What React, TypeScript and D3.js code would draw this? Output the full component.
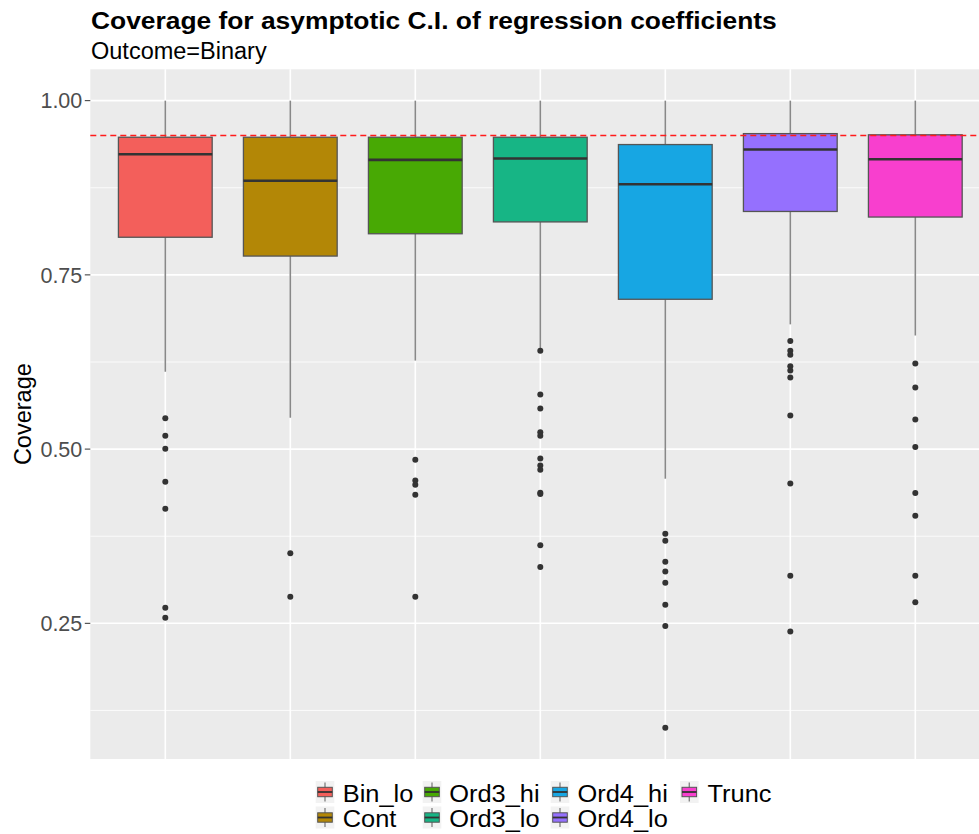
import React from "react";
import * as d3 from "d3";

const categories = ["Bin_lo", "Cont", "Ord3_hi", "Ord3_lo", "Ord4_hi", "Ord4_lo", "Trunc"];
const colors = ["#F35F5B", "#B38706", "#48A904", "#17B585", "#17A6E3", "#9570FE", "#F83FCE"];
const whiskerHigh = [1.0, 1.0, 1.0, 1.0, 1.0, 1.0, 1.0];
const q3 = [0.9475, 0.9475, 0.9475, 0.9475, 0.937, 0.9527, 0.951];
const medians = [0.923, 0.885, 0.915, 0.917, 0.880, 0.930, 0.916];
const q1 = [0.804, 0.777, 0.809, 0.826, 0.715, 0.841, 0.833];
const whiskerLow = [0.611, 0.545, 0.627, 0.645, 0.4575, 0.679, 0.663];
const outliers = [
  [0.5444, 0.519, 0.5006, 0.453, 0.4145, 0.2725, 0.258],
  [0.3504, 0.2882],
  [0.4847, 0.455, 0.449, 0.4345, 0.2882],
  [0.641, 0.5784, 0.5583, 0.5243, 0.519, 0.4866, 0.4766, 0.4704, 0.4375, 0.4355, 0.3622, 0.3308],
  [0.3785, 0.3685, 0.3384, 0.3245, 0.3083, 0.2767, 0.2461, 0.1003],
  [0.655, 0.641, 0.6353, 0.619, 0.6128, 0.6028, 0.5483, 0.4507, 0.3184, 0.2383],
  [0.6228, 0.5884, 0.5425, 0.503, 0.437, 0.4045, 0.3184, 0.2801],
];
const refLine = 0.95;
const majorTicks = [0.25, 0.5, 0.75, 1.0];
const minorTicks = [0.125, 0.375, 0.625, 0.875];
const tickLabels = ["0.25", "0.50", "0.75", "1.00"];
const titleText = "Coverage for asymptotic C.I. of regression coefficients";
const subtitleText = "Outcome=Binary";
const yTitle = "Coverage";

const W = 979;
const H = 834;
const panel = { left: 90.3, right: 990.3, top: 69.3, bottom: 759 };
const font = "Liberation Sans, Arial, Helvetica, sans-serif";

export default function App() {
  const x = d3.scalePoint<string>().domain(categories).range([panel.left, panel.right]).padding(0.6);
  const step = x.step();
  const boxW = step * 0.75;
  const y = d3.scaleLinear().domain([0.0553, 1.045]).range([panel.bottom, panel.top]);

  const legendCols = [
    { kx: 315.7, tx: 342.7 },
    { kx: 422.7, tx: 449.3 },
    { kx: 550.7, tx: 577.5 },
    { kx: 680, tx: 707.5 },
  ];
  const rowY = [781, 806.5];
  const rowBase = [801.7, 827];

  return (
    <svg width={W} height={H} style={{ display: "block", position: "absolute", left: 0, top: 0 }} fontFamily={font}>
      <rect x={0} y={0} width={W} height={H} fill="#ffffff" />
      <text x={91} y={28.5} fontSize={23.3} fontWeight="bold" fill="#000" textLength={685.7} lengthAdjust="spacingAndGlyphs">{titleText}</text>
      <text x={91} y={58.5} fontSize={23.5} fill="#000">{subtitleText}</text>

      <rect x={panel.left} y={panel.top} width={panel.right - panel.left} height={panel.bottom - panel.top} fill="#ebebeb" />
      {minorTicks.map((t) => (
        <line key={"mi" + t} x1={panel.left} x2={panel.right} y1={y(t)} y2={y(t)} stroke="#ffffff" strokeWidth={0.8} />
      ))}
      {majorTicks.map((t) => (
        <line key={"ma" + t} x1={panel.left} x2={panel.right} y1={y(t)} y2={y(t)} stroke="#ffffff" strokeWidth={1.6} />
      ))}
      {categories.map((c) => (
        <line key={"vg" + c} x1={x(c)} x2={x(c)} y1={panel.top} y2={panel.bottom} stroke="#ffffff" strokeWidth={1.6} />
      ))}

      {categories.map((c, i) => {
        const cx = x(c) as number;
        return (
          <g key={"bx" + c}>
            <line x1={cx} x2={cx} y1={y(whiskerHigh[i])} y2={y(q3[i])} stroke="#888" strokeWidth={1.6} />
            <line x1={cx} x2={cx} y1={y(q1[i])} y2={y(whiskerLow[i])} stroke="#888" strokeWidth={1.6} />
            <rect x={cx - boxW / 2} y={y(q3[i])} width={boxW} height={y(q1[i]) - y(q3[i])} fill={colors[i]} stroke="#555" strokeWidth={1.3} />
            <line x1={cx - boxW / 2} x2={cx + boxW / 2} y1={y(medians[i])} y2={y(medians[i])} stroke="#333" strokeWidth={2.6} />
            {outliers[i].map((v, j) => (
              <circle key={j} cx={cx} cy={y(v)} r={3} fill="#333" />
            ))}
          </g>
        );
      })}

      <line x1={panel.left} x2={panel.right} y1={y(refLine)} y2={y(refLine)} stroke="#ff1a1a" strokeWidth={1.3} strokeDasharray="6,4" />

      {majorTicks.map((t, i) => (
        <g key={"tk" + t}>
          <line x1={panel.left - 5.5} x2={panel.left} y1={y(t)} y2={y(t)} stroke="#333" strokeWidth={1} />
          <text x={panel.left - 8} y={y(t)} dy="0.36em" textAnchor="end" fontSize={21.5} fill="#4d4d4d">{tickLabels[i]}</text>
        </g>
      ))}
      <text transform={`translate(31,${(panel.top + panel.bottom) / 2}) rotate(-90)`} textAnchor="middle" fontSize={23.5} fill="#000">{yTitle}</text>

      {categories.map((c, i) => {
        const col = legendCols[Math.floor(i / 2)];
        const ry = rowY[i % 2];
        const kw = 18.6;
        const kh = 22;
        const kcx = col.kx + kw / 2;
        return (
          <g key={"lg" + c}>
            <rect x={col.kx} y={ry} width={kw} height={kh} fill="#f2f2f2" />
            <line x1={kcx} x2={kcx} y1={ry + 1.5} y2={ry + kh - 1.5} stroke="#888" strokeWidth={1.4} />
            <rect x={col.kx + 2} y={ry + 6.3} width={kw - 4} height={kh - 12.6} fill={colors[i]} stroke="#555" strokeWidth={1} />
            <line x1={col.kx + 2} x2={col.kx + kw - 2} y1={ry + kh / 2} y2={ry + kh / 2} stroke="#333" strokeWidth={1.8} />
            <text transform={`translate(${col.tx},${rowBase[i % 2]}) scale(1.09,1)`} fontSize={23.3} fill="#000">{c}</text>
          </g>
        );
      })}
    </svg>
  );
}
